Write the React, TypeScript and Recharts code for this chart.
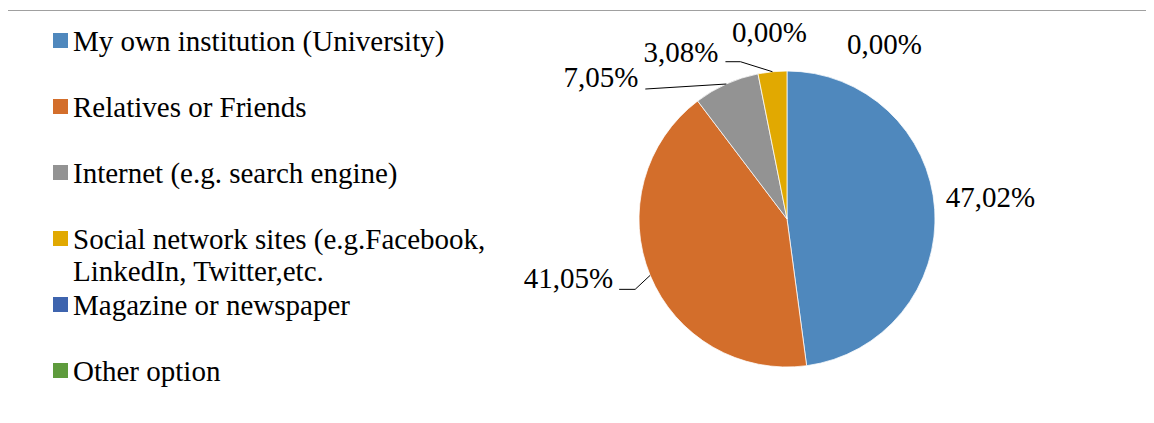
import React from "react";
import { PieChart, Pie, Cell, Legend } from "recharts";

const categories = [
  "My own institution (University)",
  "Relatives or Friends",
  "Internet (e.g. search engine)",
  "Social network sites (e.g.Facebook, LinkedIn, Twitter,etc.",
  "Magazine or newspaper",
  "Other option",
];
const values = [47.02, 41.05, 7.05, 3.08, 0.0, 0.0];
const colors = ["#4F88BD", "#D36E2B", "#939393", "#E1A901", "#3E64AE", "#5E9B3D"];

const data = categories.map((name, i) => ({ name, value: values[i], fill: colors[i] }));

const FONT = "'Liberation Serif', 'Times New Roman', serif";
const RAD = Math.PI / 180;

type LabelLayout = {
  line?: number[][];
  dx: number;
  dy: number;
  anchor: "start" | "end";
};

const LABEL_LAYOUT: LabelLayout[] = [
  { dx: 11, dy: -2, anchor: "start" },
  { line: [[-15, 14], [-31, 14]], dx: -37, dy: 13, anchor: "end" },
  { line: [[-81, 5]], dx: -88, dy: 3, anchor: "end" },
  { line: [[-32, -10], [-47, -10]], dx: -54, dy: -10, anchor: "end" },
  { dx: -55, dy: -29, anchor: "start" },
  { dx: 60, dy: -17, anchor: "start" },
];

const fmt = (v: number) => v.toFixed(2).replace(".", ",") + "%";

const renderLabel = (props: any) => {
  const { cx, cy, midAngle, outerRadius, index, value } = props;
  const ex = cx + outerRadius * Math.cos(-midAngle * RAD);
  const ey = cy + outerRadius * Math.sin(-midAngle * RAD);
  const lay = LABEL_LAYOUT[index];
  let path = "";
  if (lay.line) {
    path = `M${ex},${ey}` + lay.line.map((p) => ` L${ex + p[0]},${ey + p[1]}`).join("");
  }
  return (
    <g key={`lbl-${index}`}>
      {path && <path d={path} stroke="#000" strokeWidth={1} fill="none" />}
      <text
        x={ex + lay.dx}
        y={ey + lay.dy}
        textAnchor={lay.anchor}
        fill="#000"
        style={{ fontFamily: FONT, fontSize: 29 }}
      >
        {fmt(value)}
      </text>
    </g>
  );
};

const renderLegend = (props: any) => {
  const payload: any[] = props.payload || [];
  const items = categories.map((name, i) => {
    const p = payload.find((e) => e.value === name);
    return { value: name, color: (p && p.color) || colors[i] };
  });
  return (
    <div style={{ position: "absolute", left: 53, top: 7.5, fontFamily: FONT, fontSize: 29, color: "#000" }}>
      {items.map((entry, i) => (
        <div key={`leg-${i}`} style={{ position: "relative", height: 66, width: 450 }}>
          <div
            style={{
              position: "absolute",
              left: 0,
              top: 25.5,
              width: 15,
              height: 15,
              background: entry.color,
            }}
          />
          <div
            style={{
              position: "absolute",
              left: 20,
              top: 17.7,
              width: 430,
              lineHeight: "32px",
              whiteSpace: "normal",
            }}
          >
            {entry.value}
          </div>
        </div>
      ))}
    </div>
  );
};

export default function App() {
  return (
    <div style={{ position: "relative", width: 1138, height: 407 }}>
      <div style={{ position: "absolute", left: -8, top: -8 }}>
        <PieChart width={1154} height={423} margin={{ top: 0, right: 0, bottom: 0, left: 0 }}>
          <rect x={6} y={10} width={2} height={413} fill="#B4B4B4" />
          <rect x={7} y={10} width={1147} height={1} fill="#A0A0A0" />
          <Pie
            data={data}
            dataKey="value"
            nameKey="name"
            cx={787}
            cy={219}
            outerRadius={148}
            startAngle={90}
            endAngle={-270}
            stroke="#FFFFFF"
            strokeWidth={0.75}
            label={renderLabel}
            labelLine={false}
            isAnimationActive={false}
          >
            {data.map((d, i) => (
              <Cell key={`c-${i}`} fill={colors[i]} />
            ))}
          </Pie>
          <Legend
            layout="horizontal"
            verticalAlign="middle"
            align="center"
            content={renderLegend}
            wrapperStyle={{ position: "absolute", left: 0, top: 0, width: 1, height: 1 }}
          />
        </PieChart>
      </div>
    </div>
  );
}
